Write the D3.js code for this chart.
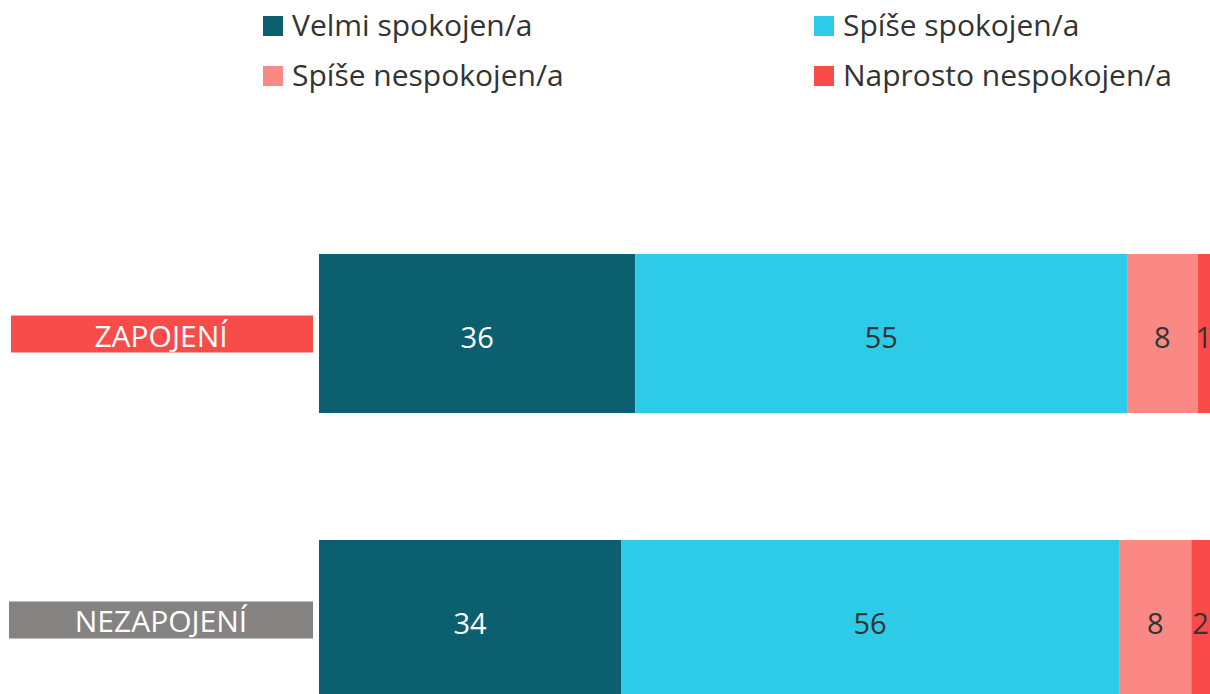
<!DOCTYPE html>
<html>
<head>
<meta charset="utf-8">
<script src="https://cdn.jsdelivr.net/npm/d3@7"></script>
<style>
  body { margin: 0; background: #fff; }
  svg { display: block; font-family: "Open Sans", "Noto Sans", sans-serif; }
</style>
</head>
<body>
<svg id="chart" width="1210" height="694"></svg>
<script>
const groups = ["ZAPOJENÍ", "NEZAPOJENÍ"];
const groupColors = ["#f84c4b", "#858381"];
const seriesNames = ["Velmi spokojen/a", "Spíše spokojen/a", "Spíše nespokojen/a", "Naprosto nespokojen/a"];
const seriesColors = ["#0c5f6f", "#2dcbe8", "#fa8884", "#f84b4a"];
const labelColors = ["#ffffff", "#333333", "#333333", "#333333"];
// share of answers per group (labels show rounded values)
const velmi = [35.5, 33.9];
const spise = [55.2, 55.9];
const spiseNe = [7.9, 8.1];
const naprosto = [1.4, 2.1];
const shown = [[36, 55, 8, 1], [34, 56, 8, 2]];

const svg = d3.select("#chart");

let rows = groups.map((g, i) => ({
  group: g,
  s0: velmi[i], s1: spise[i], s2: spiseNe[i], s3: naprosto[i]
}));
let keys = ["s0", "s1", "s2", "s3"];
let stacked = d3.stack().keys(keys)(rows);

let x = d3.scaleLinear().domain([0, 100]).range([319, 1210]);
let y = d3.scaleBand().domain(groups).range([254, 699]).paddingInner(0.444).paddingOuter(0);

// bars
stacked.forEach((layer, k) => {
  svg.append("g").selectAll("rect")
    .data(layer)
    .join("rect")
    .attr("x", d => x(d[0]))
    .attr("y", d => y(d.data.group))
    .attr("width", d => x(d[1]) - x(d[0]))
    .attr("height", y.bandwidth())
    .attr("fill", seriesColors[k]);

  svg.append("g").selectAll("text")
    .data(layer)
    .join("text")
    .attr("x", d => (x(d[0]) + x(d[1])) / 2)
    .attr("y", d => y(d.data.group) + y.bandwidth() / 2 + 4)
    .attr("dy", "0.35em")
    .attr("text-anchor", "middle")
    .attr("font-size", 29)
    .attr("fill", labelColors[k])
    .text((d, i) => shown[i][k]);
});

// category labels with coloured boxes
let cat = svg.append("g").selectAll("g")
  .data(groups)
  .join("g");
cat.append("rect")
  .attr("x", (d, i) => i ? 9 : 11)
  .attr("y", d => y(d) + y.bandwidth() / 2 - 18)
  .attr("width", (d, i) => i ? 304 : 302)
  .attr("height", 37)
  .attr("fill", (d, i) => groupColors[i]);
cat.append("text")
  .attr("x", 161)
  .attr("y", d => y(d) + y.bandwidth() / 2 + 13)
  .attr("text-anchor", "middle")
  .attr("font-size", 30)
  .attr("fill", "#fff")
  .text(d => d);

// legend
let legend = svg.append("g").selectAll("g")
  .data(seriesNames)
  .join("g")
  .attr("transform", (d, i) => `translate(${i % 2 ? 814 : 263},${i < 2 ? 26 : 76})`);
legend.append("rect")
  .attr("x", 0).attr("y", -10)
  .attr("width", 20).attr("height", 20)
  .attr("fill", (d, i) => seriesColors[i]);
legend.append("text")
  .attr("x", 29)
  .attr("y", 10)
  .attr("font-size", 30)
  .attr("fill", "#333")
  .text(d => d);
</script>
</body>
</html>
